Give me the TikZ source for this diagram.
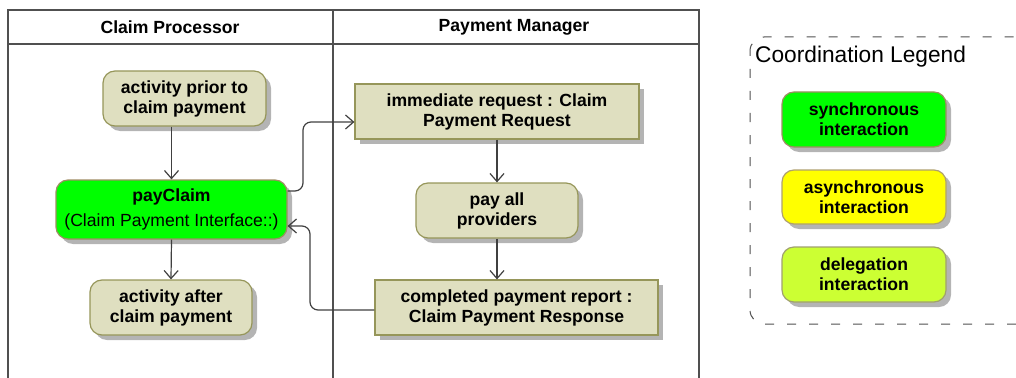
\documentclass[tikz,border=0pt]{standalone}
\usepackage{fontspec}
\setmainfont{Liberation Sans}
\usetikzlibrary{arrows.meta,shadows,calc}
\definecolor{beige}{RGB}{223,223,192}
\definecolor{olive}{RGB}{150,150,90}
\definecolor{greenfill}{RGB}{0,255,0}
\definecolor{greenborder}{RGB}{160,140,100}
\definecolor{yellowfill}{RGB}{255,255,0}
\definecolor{yellowborder}{RGB}{175,160,110}
\definecolor{delegfill}{RGB}{204,255,51}
\definecolor{delegborder}{RGB}{160,160,110}
\definecolor{lanec}{RGB}{80,80,80}
\definecolor{linec}{RGB}{64,64,64}
\definecolor{shadowc}{RGB}{180,180,180}
\begin{document}
\begin{tikzpicture}[x=1pt,y=-1pt,
  boxfont/.style={font=\bfseries\fontsize{17.6}{20}\selectfont},
  base/.style={boxfont, draw=olive, fill=beige, line width=1.2pt, align=center, inner sep=0pt,
    drop shadow={shadow xshift=5pt, shadow yshift=-5pt, fill=shadowc, opacity=1}},
  act/.style={base, rounded corners=12pt},
  obj/.style={base},
  arr/.style={draw=linec, line width=1.2pt, -{Straight Barb[length=8pt,width=14pt]}},
  lane/.style={draw=lanec, line width=2.5pt},
  header/.style={boxfont, inner sep=0pt}]
\useasboundingbox (0,0) rectangle (1016,377);
% swimlanes
\draw[lane] (8,400) -- (8,10) -- (699,10) -- (699,400);
\draw[lane] (8,44) -- (699,44);
\draw[lane] (333,10) -- (333,400);
\node[header] (h1) at (170,27) {Claim Processor};
\node[header] (h2) at (514,27) {Payment Manager};
% nodes
\node[act, minimum width=163pt, minimum height=55pt] (prior) at (184.5,98.5) {activity prior to\\claim payment};
\node[act, fill=greenfill, draw=greenborder, minimum width=231pt, minimum height=59pt] (pay) at (171.5,209.5)
  {payClaim\\[5pt]\mdseries (Claim Payment Interface::)};
\node[act, minimum width=162pt, minimum height=55pt] (after) at (171,307.5) {activity after\\claim payment};
\node[obj, minimum width=284pt, minimum height=55pt] (req) at (497,111.5) {immediate request : Claim\\Payment Request};
\node[act, minimum width=162pt, minimum height=55pt] (payall) at (497,210.5) {pay all\\providers};
\node[obj, minimum width=283pt, minimum height=55pt] (comp) at (516.5,307.5) {completed payment report :\\Claim Payment Response};
% connectors
\draw[arr] (prior.south -| pay.north) -- (pay.north);
\draw[arr] (pay.south) -- (after.north);
\draw[arr] (req.south) -- (payall.north);
\draw[arr] (payall.south) -- (payall.south |- comp.north);
\draw[arr, rounded corners=8pt] ($(pay.east)+(0,-18.5)$) -| (303,122) -- ($(req.west)+(0,10.5)$);
\draw[arr, rounded corners=8pt] ($(comp.west)+(0,2.5)$) -| (310,226) -- ($(pay.east)+(0,16.5)$);
% legend
\draw[draw=lanec, line width=1pt, dash pattern=on 9pt off 13pt, dash phase=4pt, rounded corners=14pt] (750,37) rectangle (1060,324);
\node[anchor=west, inner sep=0pt, font=\fontsize{22.7}{26}\selectfont] (lt) at (755,57) {Coordination Legend};
\node[act, fill=greenfill, draw=greenborder, minimum width=164pt, minimum height=55pt] (l1) at (864,119.5) {synchronous\\interaction};
\node[act, fill=yellowfill, draw=yellowborder, minimum width=164pt, minimum height=54pt] (l2) at (864,197) {asynchronous\\interaction};
\node[act, fill=delegfill, draw=delegborder, minimum width=164pt, minimum height=55pt] (l3) at (864,274.5) {delegation\\interaction};
\end{tikzpicture}
\end{document}
